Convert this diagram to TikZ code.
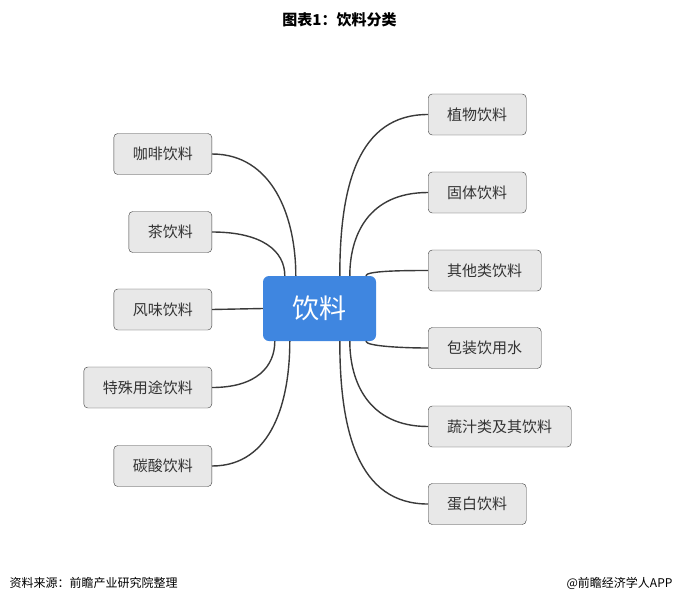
\documentclass[tikz,border=0pt]{standalone}
\usepackage{fontspec}
\setmainfont{Noto Sans CJK SC}
\usetikzlibrary{positioning,calc}
\definecolor{hubColor}{HTML}{3F86E0}
\definecolor{boxColor}{HTML}{E8E8E8}
\definecolor{lineColor}{HTML}{3A3A3A}
\tikzset{
	leaf/.style={draw=lineColor, fill=boxColor, rounded corners=4pt, minimum height=41pt,
		inner xsep=19pt, font=\fontsize{15}{15}\selectfont, text=black!80},
	hub/.style={fill=hubColor, rounded corners=6pt, minimum width=113pt, minimum height=65pt,
		text=white, font=\fontsize{27}{27}\selectfont},
	link/.style={draw=lineColor, line width=1.4pt}
}
\begin{document}
\begin{tikzpicture}[x=1pt,y=-1pt]
\useasboundingbox (0,0) rectangle (679,605);
\node[font=\bfseries\fontsize{15}{15}\selectfont] (title) at (339.5,20) {图表1：饮料分类};
\node[hub] (hub) at (319.5,308.5) {饮料};
% left side
\node[leaf, anchor=east] (l1) at (212,154) {咖啡饮料};
\node[leaf, anchor=east] (l2) at (212,232) {茶饮料};
\node[leaf, anchor=east] (l3) at (212,309.5) {风味饮料};
\node[leaf, anchor=east] (l4) at (212,387.5) {特殊用途饮料};
\node[leaf, anchor=east] (l5) at (212,466) {碳酸饮料};
% right side
\node[leaf, anchor=west] (r1) at (428,114.5) {植物饮料};
\node[leaf, anchor=west] (r2) at (428,192.5) {固体饮料};
\node[leaf, anchor=west] (r3) at (428,270.5) {其他类饮料};
\node[leaf, anchor=west] (r4) at (428,348) {包装饮用水};
\node[leaf, anchor=west] (r5) at (428,426.5) {蔬汁类及其饮料};
\node[leaf, anchor=west] (r6) at (428,504) {蛋白饮料};
\coordinate (a1) at ($(hub.north west)+(33,0)$);
\coordinate (a2) at ($(hub.north west)+(22,0)$);
\coordinate (a4) at ($(hub.south west)+(12,0)$);
\coordinate (a5) at ($(hub.south west)+(27,0)$);
\coordinate (b1) at ($(hub.north west)+(77,0)$);
\coordinate (b2) at ($(hub.north west)+(87,0)$);
\coordinate (b3) at ($(hub.north west)+(103,0)$);
\coordinate (b4) at ($(hub.south west)+(103,0)$);
\coordinate (b5) at ($(hub.south west)+(87,0)$);
\coordinate (b6) at ($(hub.south west)+(77,0)$);
\path[link] (l1.east) .. controls +(60,0) and +(0,-60) .. (a1);
\path[link] (l2.east) .. controls +(50,0) and +(0,-25) .. (a2);
\path[link] (l3.east) -- (hub.west);
\path[link] (l4.east) .. controls +(45,0) and +(0,25) .. (a4);
\path[link] (l5.east) .. controls +(60,0) and +(0,60) .. (a5);
\path[link] (r1.west) .. controls +(-70,0) and +(0,-90) .. (b1);
\path[link] (r2.west) .. controls +(-60,0) and +(0,-40) .. (b2);
\path[link] (r3.west) .. controls +(-25,0) and +(0,-5) .. (b3);
\path[link] (r4.west) .. controls +(-25,0) and +(0,5) .. (b4);
\path[link] (r5.west) .. controls +(-60,0) and +(0,40) .. (b5);
\path[link] (r6.west) .. controls +(-70,0) and +(0,90) .. (b6);
% footer
\node[anchor=west, font=\fontsize{12}{12}\selectfont] (src) at (6,583) {资料来源：前瞻产业研究院整理};
\node[anchor=east, font=\fontsize{12}{12}\selectfont] (app) at (676,583) {@前瞻经济学人APP};
\end{tikzpicture}
\end{document}
